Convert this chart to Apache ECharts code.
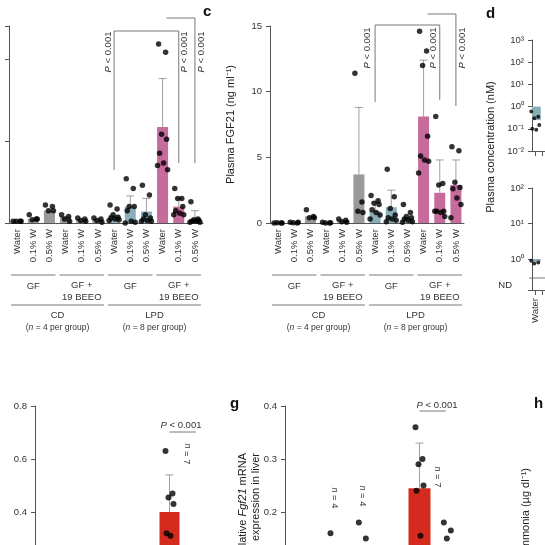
<!DOCTYPE html>
<html>
<head>
<meta charset="utf-8">
<script src="https://cdn.jsdelivr.net/npm/echarts@6/dist/echarts.min.js"></script>
<style>
  html, body { margin: 0; padding: 0; background: #fff; overflow: hidden; }
  #chart { width: 545px; height: 640px; }
</style>
</head>
<body>
<div id="chart"></div>
<script>
const treatments = ['Water', '0.1% W', '0.5% W', 'Water', '0.1% W', '0.5% W',
                    'Water', '0.1% W', '0.5% W', 'Water', '0.1% W', '0.5% W'];

// left panel (partly cut)
const aMean = [0.02, 0.05, 0.15, 0.08, 0.04, 0.04, 0.1, 0.2, 0.14, 1.17, 0.2, 0.05];
const aErr  = [null, null, null, null, null, null, null, 0.33, 0.3, 1.76, 0.3, 0.15];
const aDots = [
  [0.02, 0.02, 0.02, 0.02], [0.1, 0.05, 0.04, 0.05], [0.22, 0.2, 0.15, 0.15], [0.1, 0.08, 0.05, 0.02],
  [0.06, 0.05, 0.03, 0.02], [0.06, 0.05, 0.03, 0.01],
  [0.22, 0.17, 0.1, 0.07, 0.06, 0.05, 0.04, 0.03], [0.54, 0.42, 0.2, 0.2, 0.15, 0.02, 0.01, 0.0],
  [0.46, 0.34, 0.1, 0.06, 0.05, 0.03, 0.02, 0.02], [2.18, 2.08, 1.08, 1.02, 0.85, 0.73, 0.65, 0.7],
  [0.42, 0.3, 0.3, 0.2, 0.15, 0.12, 0.1, 0.1], [0.26, 0.05, 0.04, 0.03, 0.02, 0.02, 0.01, 0.01]
];

// panel c: plasma FGF21
const cMean = [0.05, 0.05, 0.5, 0.05, 0.2, 3.7, 0.9, 1.2, 0.4, 8.1, 2.3, 2.9];
const cErr  = [null, null, null, null, null, 8.8, 1.6, 2.5, null, 12.4, 4.8, 4.8];
const cDots = [
  [0.0, 0.0, 0.02, 0.0], [0.05, 0.0, 0.02, 0.05], [1.0, 0.5, 0.4, 0.4], [0.05, 0.0, 0.0, 0.02],
  [0.3, 0.2, 0.1, 0.05], [11.4, 1.6, 0.9, 0.8],
  [2.1, 1.7, 1.5, 1.4, 1.0, 0.8, 0.6, 0.3], [4.1, 2.0, 1.1, 0.6, 0.4, 0.3, 0.2, 0.1],
  [1.4, 0.8, 0.5, 0.4, 0.3, 0.2, 0.1, 0.05], [14.6, 13.1, 12.0, 6.6, 5.1, 4.8, 4.7, 3.8],
  [8.1, 3.0, 2.9, 0.9, 0.9, 0.8, 0.5, 0.9], [5.8, 5.5, 3.1, 2.7, 2.6, 1.9, 1.4, 0.4]
];

// panel d (cut at right edge)
const dTopMean = [0.25];
const dTopDots = [[0.6, 0.35, 0.3, 0.15, 0.1, 0.09]];
const dBotMean = [0.85];
const dBotDots = [[0.9, 0.8, 0.75]];

// bottom left panel
const eMean = ['-', '-', '-', '-', 0.4, '-'];
const eErr  = [null, null, null, null, 0.54, null];
const eDots = [[], [], [], [], [0.63, 0.47, 0.455, 0.43, 0.32, 0.31], []];

// panel g: Fgf21 mRNA
const gMean = ['-', '-', '-', '-', 0.245, '-'];
const gErr  = [null, null, null, null, 0.33, null];
const gDots = [[], [0.16], [0.18, 0.15], [], [0.36, 0.30, 0.29, 0.25, 0.24, 0.155], [0.18, 0.165, 0.15]];

const FONT = 'Liberation Sans';
const grey = '#9a9a9a', teal = '#8aaeb8', pink = '#c76b9c', red = '#d52b1e';
const barColors = [grey, grey, grey, grey, grey, grey, teal, teal, teal, pink, pink, pink];
const jitter = [-4, 3, -1, 4, -3, 1, 5, -5];

function dotData(dots) {
  const out = [];
  dots.forEach((list, i) => list.forEach((v, k) => {
    out.push({ value: [i, v], symbolOffset: [jitter[k % jitter.length], 0] });
  }));
  return out;
}
function barData(means, colors) {
  return means.map((v, i) => ({ value: v, itemStyle: { color: colors ? colors[i] : red } }));
}
function errSeries(errs, means, idx) {
  return {
    type: 'custom', xAxisIndex: idx, yAxisIndex: idx, z: 3,
    data: errs.map((e, i) => [i, means[i], e]).filter(d => d[2] != null),
    renderItem: (params, api) => {
      const lo = api.coord([api.value(0), api.value(1)]);
      const hi = api.coord([api.value(0), api.value(2)]);
      const st = { stroke: '#888', lineWidth: 0.8 };
      return { type: 'group', children: [
        { type: 'line', shape: { x1: lo[0], y1: lo[1], x2: hi[0], y2: hi[1] }, style: st },
        { type: 'line', shape: { x1: hi[0] - 4, y1: hi[1], x2: hi[0] + 4, y2: hi[1] }, style: st }
      ]};
    }
  };
}
const dotStyle = { color: '#000' };
const axisLine = { show: true, lineStyle: { color: '#555', width: 1 } };
const tickLab = { fontFamily: FONT, fontSize: 9.5, color: '#333' };

const chart = echarts.init(document.getElementById('chart'));
const option = {
  animation: false,
  textStyle: { fontFamily: FONT },
  grid: [
    { left: 9, top: 26, width: 194, height: 197 },
    { left: 270, top: 26, width: 194, height: 197 },
    { left: 532, top: 40, width: 40, height: 111 },
    { left: 532, top: 188, width: 40, height: 102 },
    { left: 42, top: 406, width: 170, height: 212 },
    { left: 292, top: 406, width: 170, height: 212 }
  ],
  xAxis: [0, 1].map(i => ({
    type: 'category', gridIndex: i, data: treatments,
    axisLine: axisLine, axisTick: { show: false },
    axisLabel: Object.assign({ rotate: 90, interval: 0, margin: 6 }, tickLab)
  })).concat([2, 3].map(i => ({
    type: 'category', gridIndex: i, data: ['Water', ''],
    axisLine: axisLine, axisTick: { show: true, alignWithLabel: true },
    axisLabel: Object.assign({ rotate: 90, interval: 0, show: i === 3 }, tickLab)
  }))).concat([4, 5].map(i => ({
    type: 'category', gridIndex: i, data: ['1', '2', '3', '4', '5', '6'],
    axisLine: { show: false }, axisTick: { show: false }, axisLabel: { show: false }
  }))),
  yAxis: [
    { type: 'value', gridIndex: 0, min: 0, max: 2.4, interval: 1, axisLine: axisLine,
      axisTick: { show: true, length: 4 }, splitLine: { show: false }, axisLabel: { show: false } },
    { type: 'value', gridIndex: 1, min: 0, max: 15, interval: 5, axisLine: axisLine,
      axisTick: { show: true, length: 4 }, splitLine: { show: false }, axisLabel: tickLab,
      name: 'Plasma FGF21 (ng ml⁻¹)', nameLocation: 'middle', nameGap: 34,
      nameTextStyle: { fontFamily: FONT, fontSize: 11, color: '#222' } },
    { type: 'log', gridIndex: 2, min: 0.01, max: 1000, logBase: 10, axisLine: axisLine,
      axisTick: { show: true, length: 4 }, splitLine: { show: false },
      axisLabel: Object.assign({ formatter: v => '10' + { '-2': '⁻²', '-1': '⁻¹', '0': '⁰', '1': '¹', '2': '²', '3': '³' }[Math.round(Math.log10(v))] }, tickLab) },
    { type: 'log', gridIndex: 3, min: 0.134, max: 100, logBase: 10, axisLine: axisLine,
      axisTick: { show: true, length: 4 }, splitLine: { show: false },
      axisLabel: Object.assign({ formatter: v => { const p = Math.round(Math.log10(v)); return p < 0 ? '' : '10' + ['⁰', '¹', '²'][p]; } }, tickLab) },
    { type: 'value', gridIndex: 4, min: 0, max: 0.8, interval: 0.2, offset: 7, axisLine: axisLine,
      axisTick: { show: true, length: 4 }, splitLine: { show: false },
      axisLabel: Object.assign({ formatter: v => v.toFixed(1) }, tickLab) },
    { type: 'value', gridIndex: 5, min: 0, max: 0.4, interval: 0.1, offset: 7, axisLine: axisLine,
      axisTick: { show: true, length: 4 }, splitLine: { show: false },
      axisLabel: Object.assign({ formatter: v => v.toFixed(1) }, tickLab) }
  ],
  series: [
    { type: 'bar', xAxisIndex: 0, yAxisIndex: 0, barWidth: 11, data: barData(aMean, barColors) },
    errSeries(aErr, aMean, 0),
    { type: 'scatter', xAxisIndex: 0, yAxisIndex: 0, symbolSize: 5.5, itemStyle: dotStyle, z: 4, data: dotData(aDots) },
    { type: 'bar', xAxisIndex: 1, yAxisIndex: 1, barWidth: 11, data: barData(cMean, barColors) },
    errSeries(cErr, cMean, 1),
    { type: 'scatter', xAxisIndex: 1, yAxisIndex: 1, symbolSize: 5.5, itemStyle: dotStyle, z: 4, data: dotData(cDots) },
    { type: 'bar', xAxisIndex: 2, yAxisIndex: 2, barWidth: 11, data: barData(dTopMean, [teal]) },
    { type: 'scatter', xAxisIndex: 2, yAxisIndex: 2, symbolSize: 4, itemStyle: dotStyle, z: 4, data: dotData(dTopDots) },
    { type: 'bar', xAxisIndex: 3, yAxisIndex: 3, barWidth: 11, data: barData(dBotMean, [teal]) },
    { type: 'scatter', xAxisIndex: 3, yAxisIndex: 3, symbolSize: 4, itemStyle: dotStyle, z: 4, data: dotData(dBotDots) },
    { type: 'bar', xAxisIndex: 4, yAxisIndex: 4, barWidth: 20, data: barData(eMean) },
    errSeries(eErr, eMean, 4),
    { type: 'scatter', xAxisIndex: 4, yAxisIndex: 4, symbolSize: 6, itemStyle: dotStyle, z: 4, data: dotData(eDots) },
    { type: 'bar', xAxisIndex: 5, yAxisIndex: 5, barWidth: 22, data: barData(gMean) },
    errSeries(gErr, gMean, 5),
    { type: 'scatter', xAxisIndex: 5, yAxisIndex: 5, symbolSize: 6, itemStyle: dotStyle, z: 4, data: dotData(gDots) }
  ]
};
chart.setOption(option);

// annotations placed from the axes
const px = (g, c) => chart.convertToPixel({ xAxisIndex: g, yAxisIndex: g }, [c, 0])[0];
const stroke = { stroke: '#555', lineWidth: 0.8 };
const g = [];
function line(x1, y1, x2, y2) { g.push({ type: 'line', shape: { x1, y1, x2, y2 }, style: stroke }); }
function poly(points) { g.push({ type: 'polyline', shape: { points }, style: Object.assign({ fill: null }, stroke) }); }
function text(x, y, t, opts) {
  g.push({ type: 'text', x, y, rotation: (opts && opts.rot) || 0,
    style: Object.assign({ text: t, font: '9.5px "' + FONT + '"', fill: '#333', align: 'center', verticalAlign: 'middle' }, opts && opts.style) });
}
function pText(x, y) { text(x, y, '{i|P} < 0.001', { rot: Math.PI / 2, style: { rich: { i: { fontStyle: 'italic', font: 'italic 9.5px "' + FONT + '"' } } } }); }

[0, 1].forEach(gi => {
  const half = (px(gi, 1) - px(gi, 0)) / 2 - 2;
  [[0, 2, 'GF'], [3, 5, 'GF +\n19 BEEO'], [6, 8, 'GF'], [9, 11, 'GF +\n19 BEEO']].forEach(([a, b, t]) => {
    line(px(gi, a) - half, 275, px(gi, b) + half, 275);
    text((px(gi, a) + px(gi, b)) / 2, t === 'GF' ? 286 : 291, t, { style: { lineHeight: 12 } });
  });
  [[0, 5, 'CD', '(n = 4 per group)'], [6, 11, 'LPD', '(n = 8 per group)']].forEach(([a, b, t, n]) => {
    line(px(gi, a) - half, 305, px(gi, b) + half, 305);
    const cx = (px(gi, a) + px(gi, b)) / 2;
    text(cx, 315, t);
    text(cx, 328, n.replace('n', '{i|n}'), { style: { font: '8.5px "' + FONT + '"', rich: { i: { font: 'italic 8.5px "' + FONT + '"' } } } });
  });
});

// significance brackets
poly([[px(0, 6), 170], [px(0, 6), 31], [px(0, 9) + 10, 31], [px(0, 10), 31], [px(0, 10), 163]]);
poly([[px(0, 9) + 4, 18], [px(0, 11), 18], [px(0, 11), 163]]);
pText(px(0, 6) - 6, 52); pText(px(0, 10) + 6, 52); pText(px(0, 11) + 6, 52);
poly([[px(1, 6), 102], [px(1, 6), 25], [px(1, 10), 25], [px(1, 10), 100]]);
poly([[px(1, 9) + 4, 14], [px(1, 11), 14], [px(1, 11), 106]]);
pText(px(1, 6) - 8, 48); pText(px(1, 10) - 6, 48); pText(px(1, 11) + 6, 48);

// bottom panels
text(181, 425, '{i|P} < 0.001', { style: { rich: { i: { font: 'italic 9.5px "' + FONT + '"' } } } });
line(px(4, 4), 432, px(4, 5) - 2, 432);
text(187, 454, '{i|n} = 7', { rot: -Math.PI / 2, style: { rich: { i: { font: 'italic 9px "' + FONT + '"' } } } });
text(437, 405, '{i|P} < 0.001', { style: { rich: { i: { font: 'italic 9.5px "' + FONT + '"' } } } });
line(px(5, 4), 411, px(5, 5) - 2, 411);
text(px(5, 1), 498, '{i|n} = 4', { rot: -Math.PI / 2, style: { rich: { i: { font: 'italic 9px "' + FONT + '"' } } } });
text(px(5, 2), 496, '{i|n} = 4', { rot: -Math.PI / 2, style: { rich: { i: { font: 'italic 9px "' + FONT + '"' } } } });
text(px(5, 4) + 18, 477, '{i|n} = 7', { rot: -Math.PI / 2, style: { rich: { i: { font: 'italic 9px "' + FONT + '"' } } } });
text(243, 453, 'Relative {i|Fgf21} mRNA', { rot: Math.PI / 2, style: { align: 'right', font: '11px "' + FONT + '"', fill: '#222', rich: { i: { font: 'italic 11px "' + FONT + '"' } } } });
text(256, 453, 'expression in liver', { rot: Math.PI / 2, style: { align: 'right', font: '11px "' + FONT + '"', fill: '#222' } });
text(526, 468, 'Ammonia (µg dl⁻¹)', { rot: Math.PI / 2, style: { align: 'right', font: '11px "' + FONT + '"', fill: '#222' } });
text(491, 147, 'Plasma concentration (nM)', { rot: Math.PI / 2, style: { font: '11px "' + FONT + '"', fill: '#222' } });
text(512, 285, 'ND', { style: { align: 'right' } });
line(529, 278, 545, 278);

// panel letters
const bold = { font: 'bold 15px "' + FONT + '"', fill: '#111', align: 'left' };
text(203, 12, 'c', { style: bold });
text(486, 14, 'd', { style: bold });
text(230, 404, 'g', { style: bold });
text(534, 404, 'h', { style: bold });

chart.setOption({ graphic: g });
</script>
</body>
</html>
